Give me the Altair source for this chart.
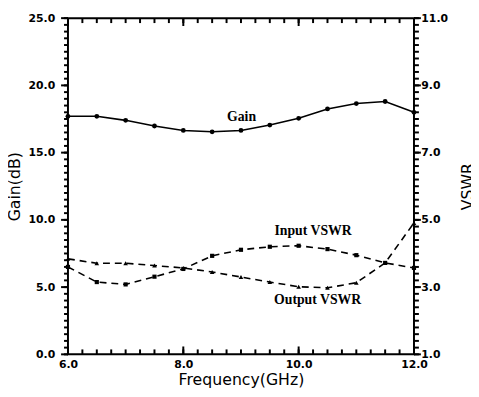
import altair as alt
import pandas as pd

# ---- data ----
freq = [6.0, 6.5, 7.0, 7.5, 8.0, 8.5, 9.0, 9.5, 10.0, 10.5, 11.0, 11.5, 12.0]
gain = [17.7, 17.7, 17.4, 16.98, 16.65, 16.55, 16.65, 17.05, 17.55, 18.25, 18.65, 18.8, 18.0]
input_vswr = [3.60, 3.15, 3.08, 3.31, 3.54, 3.93, 4.11, 4.20, 4.23, 4.13, 3.95, 3.72, 3.57]
output_vswr = [3.84, 3.71, 3.71, 3.64, 3.57, 3.45, 3.30, 3.15, 3.01, 2.98, 3.13, 3.72, 4.91]

x_major = [6.0, 8.0, 10.0, 12.0]
x_minor = [6.0 + 0.25 * i for i in range(25)]
gain_major = [0.0, 5.0, 10.0, 15.0, 20.0, 25.0]
gain_minor = [0.5 * i for i in range(51)]
vswr_major = [1.0, 3.0, 5.0, 7.0, 9.0, 11.0]
vswr_minor = [round(1.0 + 0.2 * i, 2) for i in range(51)]

gain_note = {"x": [9.01], "y": [17.64], "t": ["Gain"]}
input_note = {"x": [10.25], "y": [4.66], "t": ["Input VSWR"]}
output_note = {"x": [10.33], "y": [2.62], "t": ["Output VSWR"]}

df = pd.DataFrame({"freq": freq, "gain": gain, "inp": input_vswr, "out": output_vswr})

LABEL_FONT = "DejaVu Sans"
TITLE_FONT = "DejaVu Sans"
NOTE_FONT = "Liberation Serif"

xscale = alt.Scale(domain=[6, 12], nice=False, zero=False)
gscale = alt.Scale(domain=[0, 25], nice=False, zero=False)
vscale = alt.Scale(domain=[1, 11], nice=False, zero=False)

LAB = dict(format=".1f", labelFont=LABEL_FONT, labelFontWeight="bold",
           labelFontSize=11, labelColor="black", labelFlush=False, labelOverlap=False)
TIT = dict(titleFont=TITLE_FONT, titleFontSize=16, titleFontWeight="normal",
           titleColor="black")

ax_bottom = alt.Axis(orient="bottom", values=x_major, ticks=False, domain=False, grid=False,
                     labelPadding=4, title="Frequency(GHz)", titleBaseline="top",
                     titleY=18, **LAB, **TIT)
ax_left = alt.Axis(orient="left", values=gain_major, ticks=False, domain=False, grid=False,
                   labelPadding=13.5, title="Gain(dB)", titleAngle=270,
                   titleBaseline="bottom", titleAlign="center", titleX=-46, titleY=171,
                   **LAB, **TIT)
ax_right = alt.Axis(orient="right", values=vswr_major, ticks=False, domain=False, grid=False,
                    labelPadding=7, title="VSWR", titleAngle=270,
                    titleBaseline="alphabetic", titleAlign="center", titleX=60, titleY=171,
                    **LAB, **TIT)

base = alt.Chart(df)

gain_line = base.mark_line(color="black", strokeWidth=1.6).encode(
    x=alt.X("freq:Q", scale=xscale, axis=ax_bottom),
    y=alt.Y("gain:Q", scale=gscale, axis=ax_left),
)
gain_pts = base.mark_point(filled=True, shape="circle", size=24, color="black", opacity=1).encode(
    x=alt.X("freq:Q", scale=xscale, axis=None),
    y=alt.Y("gain:Q", scale=gscale, axis=None),
)
in_line = base.mark_line(color="black", strokeWidth=1.6, strokeDash=[7, 5]).encode(
    x=alt.X("freq:Q", scale=xscale, axis=None),
    y=alt.Y("inp:Q", scale=vscale, axis=ax_right),
)
out_line = base.mark_line(color="black", strokeWidth=1.6, strokeDash=[7, 5]).encode(
    x=alt.X("freq:Q", scale=xscale, axis=None),
    y=alt.Y("out:Q", scale=vscale, axis=None),
)
in_pts = base.mark_point(filled=True, shape="square", size=18, color="black", opacity=1).encode(
    x=alt.X("freq:Q", scale=xscale, axis=None),
    y=alt.Y("inp:Q", scale=vscale, axis=None),
)
out_pts = base.mark_point(filled=True, shape="triangle-up", size=22, color="black", opacity=1).encode(
    x=alt.X("freq:Q", scale=xscale, axis=None),
    y=alt.Y("out:Q", scale=vscale, axis=None),
)


def note(d, scale):
    return alt.Chart(pd.DataFrame(d)).mark_text(
        font=NOTE_FONT, fontWeight="bold", fontSize=14, color="black",
        align="center", baseline="middle"
    ).encode(
        x=alt.X("x:Q", scale=xscale, axis=None),
        y=alt.Y("y:Q", scale=scale, axis=None),
        text="t:N",
    )


# ---- tick marks (inward on top/bottom, outward on left/right) ----
def xticks(values, length, at, inward_sign):
    return alt.Chart(pd.DataFrame({"v": values})).mark_tick(
        orient="vertical", size=length, thickness=2, color="black", opacity=1,
        yOffset=inward_sign * length / 2
    ).encode(
        x=alt.X("v:Q", scale=xscale, axis=None),
        y=alt.Y(datum=at, scale=gscale, axis=None),
    )


def yticks(values, scale, length, at, out_sign):
    return alt.Chart(pd.DataFrame({"v": values})).mark_tick(
        orient="horizontal", size=length, thickness=2, color="black", opacity=1,
        xOffset=out_sign * length / 2
    ).encode(
        x=alt.X(datum=at, scale=xscale, axis=None),
        y=alt.Y("v:Q", scale=scale, axis=None),
    )


ticks = [
    xticks(x_minor, 5, 0, -1), xticks(x_major, 8, 0, -1),
    xticks(x_minor, 5, 25, 1), xticks(x_major, 8, 25, 1),
    yticks(gain_minor, gscale, 4, 6, -1), yticks(gain_major, gscale, 7, 6, -1),
    yticks(vswr_minor, vscale, 5, 12, 1), yticks(vswr_major, vscale, 7, 12, 1),
]

chart = alt.layer(
    gain_line, gain_pts, in_line, out_line, in_pts, out_pts,
    note(gain_note, gscale), note(input_note, vscale), note(output_note, vscale),
    *ticks,
).resolve_scale(y="independent").resolve_axis(x="independent", y="independent").properties(
    width=352, height=342,
    padding={"left": 61, "top": 7, "right": 58, "bottom": 36},
    autosize=alt.AutoSizeParams(type="none"),
    background="white",
).configure_view(stroke="black", strokeWidth=2)

chart.save("out.html", embed_options={"renderer": "svg", "actions": False})
